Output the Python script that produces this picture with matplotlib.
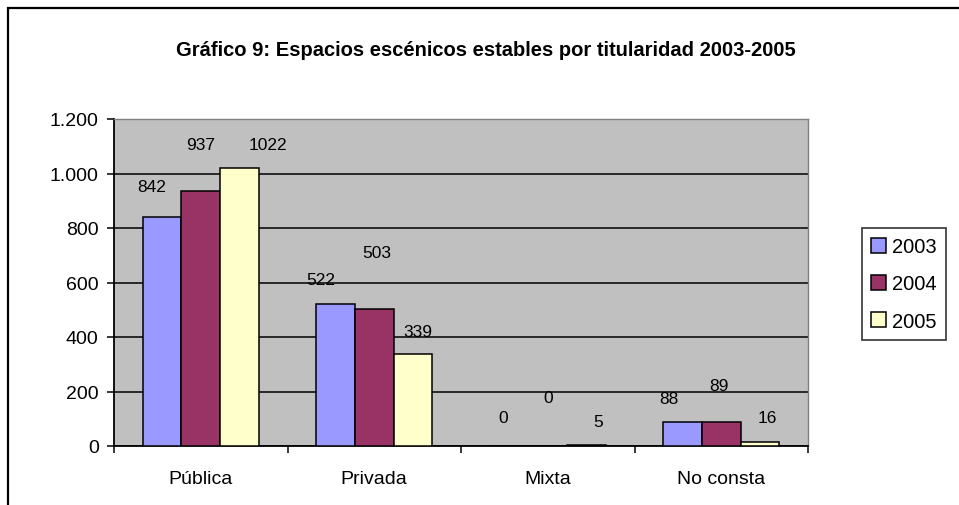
import matplotlib.pyplot as plt
import matplotlib.patches as mpatches
import numpy as np

plt.rcParams['font.family'] = ['Liberation Sans', 'DejaVu Sans']

# Data
categorias = ['Pública', 'Privada', 'Mixta', 'No consta']
anios = ['2003', '2004', '2005']
v2003 = [842, 522, 0, 88]
v2004 = [937, 503, 0, 89]
v2005 = [1022, 339, 5, 16]
colores = ['#9999FF', '#993366', '#FFFFCC']

# label offsets (pixels) as Excel placed them, per series / category
dx_off = [[-11, -15, -6, -14], [0, 3, 0, -2], [29, 5, 12, 8]]
dy_off = [[30, 24, 28, 24], [46, 56, 48, 36], [23, 22, 23, 24]]

fig = plt.figure(figsize=(9.59, 5.06), dpi=100)
ax = fig.add_axes([114 / 959, 1 - 447 / 506, 694 / 959, 327 / 506])
ax.set_facecolor('#C0C0C0')

x = np.arange(len(categorias))
w = 0.222
series = [v2003, v2004, v2005]
for i, vals in enumerate(series):
    ax.bar(x + (i - 1) * w, vals, w, color=colores[i], edgecolor='black',
           linewidth=1.1, label=anios[i], zorder=3)
    for j, v in enumerate(vals):
        ax.annotate(str(v), xy=(x[j] + (i - 1) * w, v),
                    xytext=(dx_off[i][j], dy_off[i][j]), textcoords='offset pixels',
                    ha='center', va='center', fontsize=12.5, zorder=4)

ax.set_xlim(-0.5, 3.5)
ax.set_ylim(0, 1200)
ax.set_yticks(range(0, 1201, 200))
ax.set_yticklabels(['0', '200', '400', '600', '800', '1.000', '1.200'])
ax.yaxis.grid(True, color='black', linewidth=1.1, zorder=1)
ax.set_axisbelow(True)

ax.set_xticks(x)
ax.set_xticklabels(categorias)
ax.set_xticks(np.arange(-0.5, 4, 1), minor=True)
ax.tick_params(axis='x', which='major', length=0, pad=17, labelsize=14)
ax.tick_params(axis='x', which='minor', length=5, width=1.1, direction='out')
ax.tick_params(axis='y', length=5, width=1.1, pad=6, labelsize=14)

for s in ['left', 'bottom']:
    ax.spines[s].set_color('black')
    ax.spines[s].set_linewidth(1.3)
for s in ['top', 'right']:
    ax.spines[s].set_color('#808080')
    ax.spines[s].set_linewidth(1.0)

fig.text(486 / 959, 1 - 50 / 506, 'Gráfico 9: Espacios escénicos estables por titularidad 2003-2005',
         ha='center', va='center', fontsize=14.5, fontweight='bold')

leg = fig.legend(loc='center left', bbox_to_anchor=(862 / 959, 1 - 285 / 506),
                 fontsize=14.5, frameon=True, fancybox=False, edgecolor='black',
                 handlelength=0.75, handleheight=0.75, handletextpad=0.3,
                 labelspacing=0.9, borderpad=0.45, borderaxespad=0)
leg.get_frame().set_linewidth(1.2)

# outer chart frame
fig.patches.append(mpatches.Rectangle((8 / 959, -0.1), 1.2, 1.1 - 9 / 506,
                                      transform=fig.transFigure, fill=False,
                                      edgecolor='black', linewidth=1.6))

fig.savefig('out.png', dpi=100)
